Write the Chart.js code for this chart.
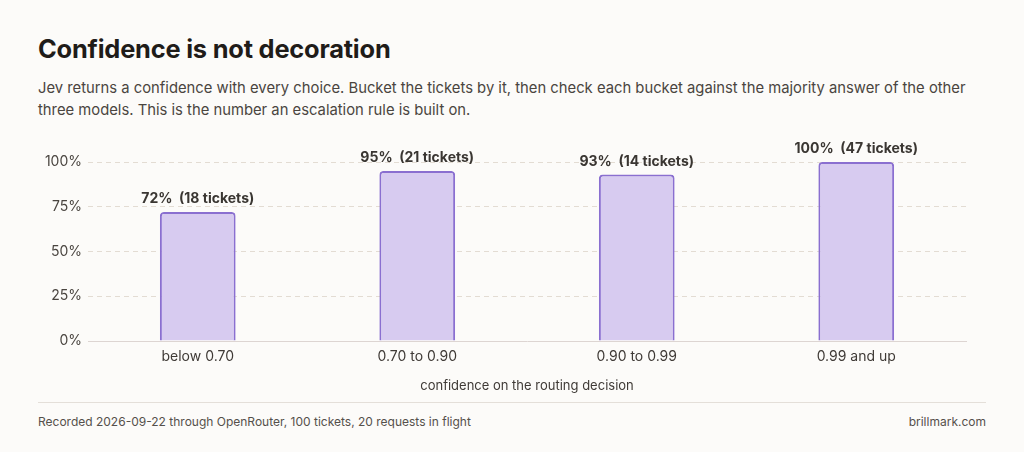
<!DOCTYPE html>
<html>
<head>
<meta charset="utf-8">
<script src="https://cdn.jsdelivr.net/npm/chart.js@4.4.1/dist/chart.umd.min.js"></script>
<style>
  html, body { margin: 0; padding: 0; background: #fcfbf9; }
  body { width: 1024px; height: 452px; position: relative; overflow: hidden; font-family: Inter, "Noto Sans", sans-serif; }
  h1 { position: absolute; left: 38px; top: 33px; margin: 0; font-size: 25.4px; font-weight: 700; color: #1f1c19; letter-spacing: -0.2px; }
  .sub { position: absolute; left: 38px; top: 77px; margin: 0; font-size: 14.8px; line-height: 22px; color: #4a4540; }
  #wrap { position: absolute; left: 0; top: 140px; width: 1024px; height: 254px; }
  .rule { position: absolute; left: 38px; top: 402px; width: 948px; height: 1px; background: #e4dfd9; }
  .foot { position: absolute; top: 414px; font-size: 12px; color: #55504b; }
</style>
</head>
<body>
<h1>Confidence is not decoration</h1>
<p class="sub">Jev returns a confidence with every choice. Bucket the tickets by it, then check each bucket against the majority answer of the other<br>three models. This is the number an escalation rule is built on.</p>
<div id="wrap"><canvas id="myChart"></canvas></div>
<div class="rule"></div>
<div class="foot" style="left:38px">Recorded 2026-09-22 through OpenRouter, 100 tickets, 20 requests in flight</div>
<div class="foot" style="right:38px">brillmark.com</div>
<script>
const buckets = ['below 0.70', '0.70 to 0.90', '0.90 to 0.99', '0.99 and up'];
const agreePct = [72, 95, 93, 100];
const ticketCounts = [18, 21, 14, 47];
const yTicks = [0, 25, 50, 75, 100];

const chartFont = 'Inter, "Noto Sans", sans-serif';

// value labels above each bar
const barLabels = {
    id: 'barLabels',
    afterDatasetsDraw(chart) {
        const ctx = chart.ctx;
        const meta = chart.getDatasetMeta(0);
        ctx.save();
        ctx.font = 'bold 14px ' + chartFont;
        ctx.fillStyle = '#3a3632';
        ctx.textAlign = 'center';
        ctx.textBaseline = 'bottom';
        meta.data.forEach((bar, i) => {
            ctx.fillText(agreePct[i] + '%  (' + ticketCounts[i] + ' tickets)', bar.x, bar.y - 6);
        });
        ctx.restore();
    }
};

const ctx = document.getElementById('myChart').getContext('2d');
const myChart = new Chart(ctx, {
    type: 'bar',
    data: {
        labels: buckets,
        datasets: [{
            data: agreePct,
            backgroundColor: '#d7cbf0',
            borderColor: '#8a6fd0',
            borderWidth: 2,
            borderRadius: { topLeft: 4, topRight: 4 },
            borderSkipped: 'bottom',
            barPercentage: 0.345,
            categoryPercentage: 1
        }]
    },
    options: {
        responsive: true,
        maintainAspectRatio: false,
        animation: false,
        layout: { padding: { top: 22, right: 58, bottom: 0, left: 0 } },
        plugins: {
            legend: { display: false },
            tooltip: { enabled: false }
        },
        scales: {
            x: {
                grid: { display: false, drawTicks: false },
                border: { display: true, color: '#ddd5d2', width: 1 },
                ticks: { color: '#3f3a36', font: { family: chartFont, size: 14 }, padding: 7 },
                title: {
                    display: true,
                    text: 'confidence on the routing decision',
                    color: '#3f3a36',
                    font: { family: chartFont, size: 13 },
                    padding: { top: 4, bottom: 0 }
                },
                afterFit(scale) { scale.height = 53; }
            },
            y: {
                min: 0,
                max: 100,
                afterBuildTicks(scale) { scale.ticks = yTicks.map(v => ({ value: v })); },
                grid: { color: '#e3dcd3', drawTicks: false, lineWidth: 1 },
                border: { display: false, dash: [5, 4] },
                ticks: {
                    color: '#4a4540',
                    font: { family: chartFont, size: 14 },
                    padding: 6,
                    callback: v => v + '%'
                },
                afterFit(scale) { scale.width = 88; }
            }
        }
    },
    plugins: [barLabels]
});
</script>
</body>
</html>
